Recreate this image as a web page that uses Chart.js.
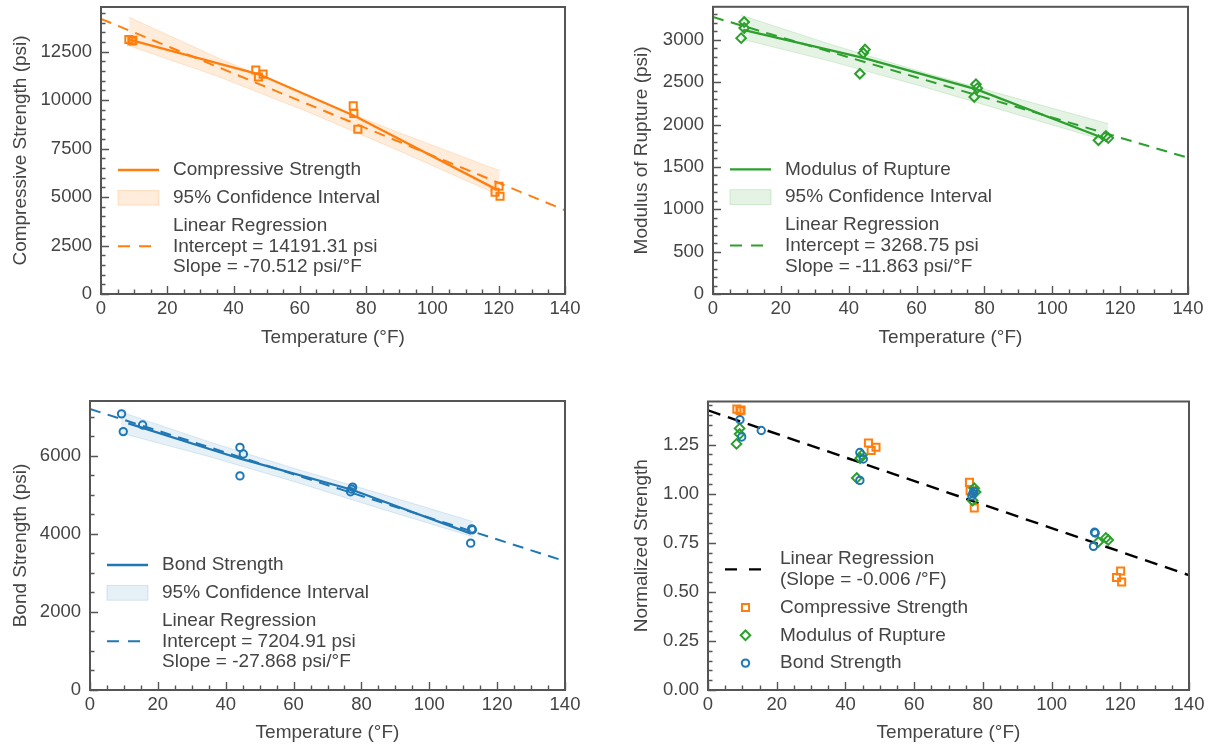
<!DOCTYPE html>
<html>
<head>
<meta charset="utf-8">
<script src="https://cdn.jsdelivr.net/npm/chart.js@4.4.1/dist/chart.umd.min.js"></script>
<style>
  html, body { margin: 0; padding: 0; background: #fff; }
  #wrap { position: relative; width: 1212px; height: 750px; }
  canvas { position: absolute; }
</style>
</head>
<body>
<div id="wrap">
  <canvas id="cs" width="606" height="375" style="left:0;top:0"></canvas>
  <canvas id="mor" width="606" height="375" style="left:606px;top:0"></canvas>
  <canvas id="bond" width="606" height="375" style="left:0;top:375px"></canvas>
  <canvas id="norm" width="606" height="375" style="left:606px;top:375px"></canvas>
</div>
<script>
// tick labels
const TEMP_TICKS = [0, 20, 40, 60, 80, 100, 120, 140];
const CS_TICKS = [0, 2500, 5000, 7500, 10000, 12500];
const MOR_TICKS = [0, 500, 1000, 1500, 2000, 2500, 3000];
const BOND_TICKS = [0, 2000, 4000, 6000];
const NORM_TICKS = [0, 0.25, 0.5, 0.75, 1.0, 1.25];

// compressive strength (psi)
const csTemp = [8.4, 9.3, 9.6, 46.7, 47.5, 48.9, 76.1, 76.3, 77.5, 120.1, 118.9, 120.4];
const csVal = [13120, 13050, 13080, 11550, 11190, 11340, 9700, 9310, 8500, 5560, 5250, 5040];
const csMeanTemp = [8.5, 47.7, 76.4, 119.0];
const csMeanVal = [13120, 11330, 9190, 5420];
const csRegTemp = [0, 140];
const csRegVal = [14191.31, 4319.63];
const csBandTemp = [8.5, 35, 63, 90, 120.3];
const csBandHi = [14270, 12200, 10150, 8320, 6360];
const csBandLo = [12800, 11240, 9350, 7380, 5080];

// modulus of rupture (psi)
const morTemp = [9.2, 9.2, 8.3, 44.8, 44.3, 43.3, 77.5, 77.9, 77.0, 113.6, 115.8, 116.5];
const morVal = [3210, 3140, 3020, 2885, 2845, 2600, 2475, 2430, 2325, 1815, 1865, 1840];
const morMeanTemp = [8.9, 44.3, 77.7, 114.6];
const morMeanVal = [3119, 2786, 2415, 1847];
const morRegTemp = [0, 140];
const morRegVal = [3268.75, 1607.93];
const morBandTemp = [8.3, 35, 62, 90, 116.5];
const morBandHi = [3290, 2943, 2616, 2304, 2010];
const morBandLo = [3010, 2743, 2446, 2114, 1800];

// bond strength (psi)
const bondTemp = [9.3, 9.8, 15.5, 44.2, 45.2, 44.2, 77.4, 76.8, 77.1, 112.5, 112.7, 112.2];
const bondVal = [7080, 6625, 6795, 6220, 6050, 5490, 5200, 5085, 5150, 4130, 4110, 3765];
const bondMeanTemp = [11.3, 44.3, 77.2, 112.3];
const bondMeanVal = [6838, 5930, 5135, 4010];
const bondRegTemp = [0, 140];
const bondRegVal = [7204.91, 3303.39];
const bondBandTemp = [9.1, 35, 60, 85, 112.8];
const bondBandHi = [7130, 6367, 5688, 5048, 4320];
const bondBandLo = [6590, 5987, 5348, 4668, 3930];

// normalized strength
const normCs = [1.431, 1.423, 1.426, 1.259, 1.220, 1.237, 1.058, 1.015, 0.927, 0.606, 0.573, 0.550];
const normMor = [1.333, 1.304, 1.254, 1.198, 1.181, 1.080, 1.028, 1.009, 0.966, 0.754, 0.775, 0.764];
const normBond = [1.377, 1.289, 1.322, 1.210, 1.177, 1.068, 1.012, 0.989, 1.002, 0.804, 0.800, 0.732];
const normRegTemp = [0, 140];
const normRegVal = [1.425, 0.585];

const ORANGE = '#ff7f0e', GREEN = '#2ca02c', BLUE = '#1f77b4';
const TEXT = '#444';
const FONT = '"Liberation Sans", Arial, sans-serif';
const MK_W = 2;

const pts = (xs, ys) => xs.map((x, i) => ({x: x, y: ys[i]}));

// inward ticks + frame, like matplotlib
const frameTicks = {
  id: 'frameTicks',
  afterDatasetsDraw(chart, args, opts) {
    const {ctx, chartArea: a, scales: {x, y}} = chart;
    ctx.save();
    ctx.strokeStyle = '#555';
    ctx.lineWidth = 1.4;
    ctx.beginPath();
    const n = Math.round((x.max - x.min) / opts.xMinor);
    for (let i = 0; i <= n; i++) {
      const v = x.min + i * opts.xMinor;
      const major = x.ticks.some(t => Math.abs(t.value - v) < 1e-6);
      const px = Math.round(x.getPixelForValue(v)) + 0.5;
      ctx.moveTo(px, a.bottom);
      ctx.lineTo(px, a.bottom - (major ? 8 : 4.5));
    }
    const m = Math.floor((y.max - y.min) / opts.yMinor + 1e-6);
    for (let i = 0; i <= m; i++) {
      const v = y.min + i * opts.yMinor;
      const major = y.ticks.some(t => Math.abs(t.value - v) < 1e-6);
      const py = Math.round(y.getPixelForValue(v)) + 0.5;
      ctx.moveTo(a.left, py);
      ctx.lineTo(a.left + (major ? 8 : 4.5), py);
    }
    ctx.stroke();
    ctx.lineWidth = 2;
    ctx.strokeRect(a.left, a.top, a.right - a.left, a.bottom - a.top);
    ctx.restore();
  }
};

// legend inside the axes, lower left
const boxLegend = {
  id: 'boxLegend',
  afterDraw(chart, args, opts) {
    const {ctx, chartArea: a} = chart;
    const h = Chart.helpers;
    let y = a.bottom - opts.top;
    ctx.save();
    ctx.font = '19px ' + FONT;
    ctx.textBaseline = 'middle';
    opts.items.forEach(it => {
      const mid = y + (it.text.length - 1) * 20.7 / 2;
      const x0 = a.left + 17, x1 = a.left + 58;
      ctx.strokeStyle = it.color;
      if (it.kind === 'line' || it.kind === 'dash') {
        ctx.lineWidth = it.width;
        ctx.setLineDash(it.kind === 'dash' ? it.dash : []);
        ctx.beginPath();
        ctx.moveTo(x0, mid);
        ctx.lineTo(x1, mid);
        ctx.stroke();
        ctx.setLineDash([]);
      } else if (it.kind === 'band') {
        ctx.fillStyle = it.fill;
        ctx.fillRect(x0, mid - 7.4, x1 - x0, 14.8);
        ctx.strokeStyle = it.edge;
        ctx.lineWidth = 1;
        ctx.strokeRect(x0, mid - 7.4, x1 - x0, 14.8);
      } else if (it.kind === 'marker') {
        ctx.fillStyle = 'rgba(0,0,0,0)';
        ctx.lineWidth = MK_W;
        h.drawPoint(ctx, {pointStyle: it.style, radius: it.radius, rotation: 0, borderWidth: MK_W}, (x0 + x1) / 2, mid);
      }
      ctx.fillStyle = TEXT;
      it.text.forEach((t, i) => ctx.fillText(t, a.left + 72, y + i * 20.7));
      y += (it.text.length - 1) * 20.7 + 27.8;
    });
    ctx.restore();
  }
};

function scatterSet(xs, ys, color, style, radius) {
  return {
    data: pts(xs, ys), showLine: false, pointStyle: style, pointRadius: radius,
    pointBorderWidth: MK_W, pointBorderColor: color, pointBackgroundColor: 'rgba(0,0,0,0)'
  };
}
function lineSet(xs, ys, color, width, dash) {
  return {
    data: pts(xs, ys), showLine: true, pointRadius: 0, borderColor: color,
    borderWidth: width, borderDash: dash || [], fill: false, tension: 0
  };
}
function bandSets(xs, hi, lo, fill, edge) {
  return [
    {data: pts(xs, hi), showLine: true, pointRadius: 0, borderColor: edge, borderWidth: 1,
     fill: '+1', backgroundColor: fill},
    {data: pts(xs, lo), showLine: true, pointRadius: 0, borderColor: edge, borderWidth: 1, fill: false}
  ];
}

function makePanel(id, p) {
  new Chart(document.getElementById(id), {
    type: 'scatter',
    data: {datasets: p.datasets},
    options: {
      responsive: false,
      animation: false,
      devicePixelRatio: 1,
      layout: {padding: {top: p.padTop, right: p.padRight, left: 0, bottom: 0}},
      plugins: {
        legend: {display: false},
        tooltip: {enabled: false},
        frameTicks: {xMinor: 5, yMinor: p.yMinor},
        boxLegend: {top: p.legendTop, items: p.legend}
      },
      scales: {
        x: {
          type: 'linear', min: 0, max: 140,
          afterBuildTicks: s => { s.ticks = TEMP_TICKS.map(v => ({value: v})); },
          afterFit: s => { s.height = p.xHeight; s.paddingLeft = 0; s.paddingRight = 0; },
          ticks: {font: {family: FONT, size: 18.5}, color: TEXT, padding: 4, maxRotation: 0,
                  autoSkip: false, callback: v => String(v)},
          grid: {display: false, drawTicks: false},
          border: {display: false},
          title: {display: true, text: 'Temperature (°F)', color: TEXT,
                  font: {family: FONT, size: 19}, padding: {top: 0, bottom: p.xTitlePad}}
        },
        y: {
          type: 'linear', min: 0, max: p.yMax,
          afterBuildTicks: s => { s.ticks = p.yTicks.map(v => ({value: v})); },
          afterFit: s => { s.width = p.yWidth; s.paddingTop = 0; s.paddingBottom = 0; },
          ticks: {font: {family: FONT, size: 18.5}, color: TEXT, padding: 9, autoSkip: false,
                  callback: p.yFmt},
          grid: {display: false, drawTicks: false},
          border: {display: false},
          title: {display: true, text: p.yTitle, color: TEXT,
                  font: {family: FONT, size: 19}, padding: {top: p.yTitlePad, bottom: 0}}
        }
      }
    },
    plugins: [frameTicks, boxLegend]
  });
}

const intFmt = v => String(v);

makePanel('cs', {
  padTop: 5, padRight: 41, yWidth: 101, xHeight: 81, xTitlePad: 25.5, yTitlePad: 9.5,
  yMax: 14800, yTicks: CS_TICKS, yMinor: 500, yFmt: intFmt,
  yTitle: 'Compressive Strength (psi)', legendTop: 124,
  datasets: [
    scatterSet(csTemp, csVal, ORANGE, 'rect', 5),
    lineSet(csMeanTemp, csMeanVal, ORANGE, 2.3),
    lineSet(csRegTemp, csRegVal, ORANGE, 2, [11, 7.5]),
    ...bandSets(csBandTemp, csBandHi, csBandLo, 'rgba(255,127,14,0.15)', 'rgba(255,127,14,0.18)')
  ],
  legend: [
    {kind: 'line', color: ORANGE, width: 2.3, text: ['Compressive Strength']},
    {kind: 'band', fill: 'rgba(255,127,14,0.15)', edge: 'rgba(255,127,14,0.2)', text: ['95% Confidence Interval']},
    {kind: 'dash', color: ORANGE, width: 2, dash: [12, 9],
     text: ['Linear Regression', 'Intercept = 14191.31 psi', 'Slope = -70.512 psi/°F']}
  ]
});

makePanel('mor', {
  padTop: 5, padRight: 24, yWidth: 107, xHeight: 81, xTitlePad: 25.5, yTitlePad: 24,
  yMax: 3390, yTicks: MOR_TICKS, yMinor: 100, yFmt: intFmt,
  yTitle: 'Modulus of Rupture (psi)', legendTop: 124.7,
  datasets: [
    scatterSet(morTemp, morVal, GREEN, 'rectRot', 4.8),
    lineSet(morMeanTemp, morMeanVal, GREEN, 2.3),
    lineSet(morRegTemp, morRegVal, GREEN, 2, [11, 7.5]),
    ...bandSets(morBandTemp, morBandHi, morBandLo, 'rgba(44,160,44,0.13)', 'rgba(44,160,44,0.16)')
  ],
  legend: [
    {kind: 'line', color: GREEN, width: 2.3, text: ['Modulus of Rupture']},
    {kind: 'band', fill: 'rgba(44,160,44,0.13)', edge: 'rgba(44,160,44,0.18)', text: ['95% Confidence Interval']},
    {kind: 'dash', color: GREEN, width: 2, dash: [12, 9],
     text: ['Linear Regression', 'Intercept = 3268.75 psi', 'Slope = -11.863 psi/°F']}
  ]
});

makePanel('bond', {
  padTop: 26, padRight: 41, yWidth: 90, xHeight: 60, xTitlePad: 5.5, yTitlePad: 9.5,
  yMax: 7410, yTicks: BOND_TICKS, yMinor: 500, yFmt: intFmt,
  yTitle: 'Bond Strength (psi)', legendTop: 125,
  datasets: [
    scatterSet(bondTemp, bondVal, BLUE, 'circle', 3.7),
    lineSet(bondMeanTemp, bondMeanVal, BLUE, 2.3),
    lineSet(bondRegTemp, bondRegVal, BLUE, 2, [11, 7.5]),
    ...bandSets(bondBandTemp, bondBandHi, bondBandLo, 'rgba(31,119,180,0.11)', 'rgba(31,119,180,0.15)')
  ],
  legend: [
    {kind: 'line', color: BLUE, width: 2.3, text: ['Bond Strength']},
    {kind: 'band', fill: 'rgba(31,119,180,0.11)', edge: 'rgba(31,119,180,0.17)', text: ['95% Confidence Interval']},
    {kind: 'dash', color: BLUE, width: 2, dash: [12, 9],
     text: ['Linear Regression', 'Intercept = 7204.91 psi', 'Slope = -27.868 psi/°F']}
  ]
});

makePanel('norm', {
  padTop: 26.5, padRight: 23, yWidth: 102, xHeight: 60, xTitlePad: 5.5, yTitlePad: 24,
  yMax: 1.47, yTicks: NORM_TICKS, yMinor: 0.05, yFmt: v => v.toFixed(2),
  yTitle: 'Normalized Strength', legendTop: 131,
  datasets: [
    scatterSet(bondTemp, normBond, BLUE, 'circle', 3.7),
    scatterSet(morTemp, normMor, GREEN, 'rectRot', 4.8),
    scatterSet(csTemp, normCs, ORANGE, 'rect', 5),
    lineSet(normRegTemp, normRegVal, '#000', 2.4, [13, 8])
  ],
  legend: [
    {kind: 'dash', color: '#000', width: 2.4, dash: [12, 12], text: ['Linear Regression', '(Slope = -0.006 /°F)']},
    {kind: 'marker', color: ORANGE, style: 'rect', radius: 5, text: ['Compressive Strength']},
    {kind: 'marker', color: GREEN, style: 'rectRot', radius: 4.8, text: ['Modulus of Rupture']},
    {kind: 'marker', color: BLUE, style: 'circle', radius: 3.7, text: ['Bond Strength']}
  ]
});
</script>
</body>
</html>
